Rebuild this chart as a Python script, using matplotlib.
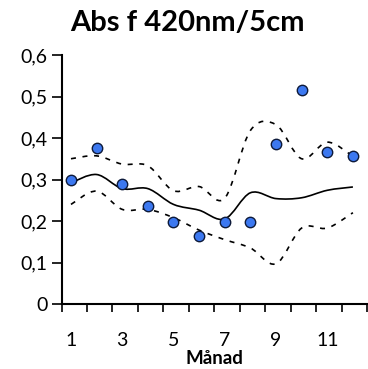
import numpy as np
import matplotlib as mpl
mpl.use('Agg')
from matplotlib import pyplot as plt
from matplotlib.path import Path
from matplotlib.patches import PathPatch

plt.rcParams['font.family'] = ['Lato', 'DejaVu Sans']

# monthly values
months = [1, 2, 3, 4, 5, 6, 7, 8, 9, 10, 11, 12]
obs = [0.30, 0.375, 0.29, 0.235, 0.197, 0.163, 0.197, 0.197, 0.385, 0.515, 0.366, 0.356]
mean = [0.292, 0.312, 0.278, 0.278, 0.24, 0.226, 0.205, 0.268, 0.254, 0.256, 0.274, 0.282]
upper = [0.35, 0.357, 0.337, 0.333, 0.273, 0.283, 0.255, 0.418, 0.432, 0.35, 0.39, 0.356]
lower = [0.24, 0.272, 0.228, 0.228, 0.208, 0.178, 0.155, 0.135, 0.097, 0.183, 0.183, 0.22]
ytick_labels = ['0', '0,1', '0,2', '0,3', '0,4', '0,5', '0,6']


# Excel-style smoothed line: Catmull-Rom through the points, drawn as bezier path
def smooth_path(x, y):
	pts = np.column_stack([x, y]).astype(float)
	verts = [pts[0]]
	codes = [Path.MOVETO]
	n = len(pts)
	for i in range(n - 1):
		p0 = pts[max(i - 1, 0)]
		p1 = pts[i]
		p2 = pts[i + 1]
		p3 = pts[min(i + 2, n - 1)]
		c1 = p1 + (p2 - p0) / 6.0
		c2 = p2 - (p3 - p1) / 6.0
		verts += [c1, c2, p2]
		codes += [Path.CURVE4] * 3
	return Path(verts, codes)


fig = plt.figure(figsize=(3.68, 3.69), dpi=100)
ax = fig.add_axes([61.5 / 368, 1 - 304 / 369, (367 - 61.5) / 368, (304 - 55) / 369])

ax.add_patch(PathPatch(smooth_path(months, mean), fill=False, color='black', lw=1.2))
ax.add_patch(PathPatch(smooth_path(months, upper), fill=False, color='black', lw=1.2, ls=(0, (3, 4))))
ax.add_patch(PathPatch(smooth_path(months, lower), fill=False, color='black', lw=1.2, ls=(0, (3, 4))))
ax.plot(months, obs, ls='none', marker='o', ms=7.5, mfc='#3c78f0', mec='#0d1a3a', mew=1.0, zorder=5)

ax.set_xlim(0.63, 12.55)
ax.set_ylim(0, 0.6)
ax.set_yticks(np.arange(0, 0.61, 0.1))
ax.set_yticklabels(ytick_labels)
ax.set_xticks([1, 3, 5, 7, 9, 11])
ax.set_xticks(np.linspace(0.63, 12.55, 13), minor=True)
ax.tick_params(axis='x', which='major', length=0, pad=20, labelsize=14)
ax.tick_params(axis='x', which='minor', length=6, width=1.2, direction='out')
ax.tick_params(axis='y', length=7, width=1.2, direction='out', labelsize=14, pad=3)

for side in ['top', 'right']:
	ax.spines[side].set_visible(False)
for side in ['left', 'bottom']:
	ax.spines[side].set_linewidth(1.5)

ax.set_xlabel('Månad', fontsize=13.5, fontweight='bold', labelpad=1)
fig.text(0.51, 0.938, 'Abs f 420nm/5cm', ha='center', va='center', fontsize=21, fontweight='bold')

plt.savefig('out.png', dpi=100)
